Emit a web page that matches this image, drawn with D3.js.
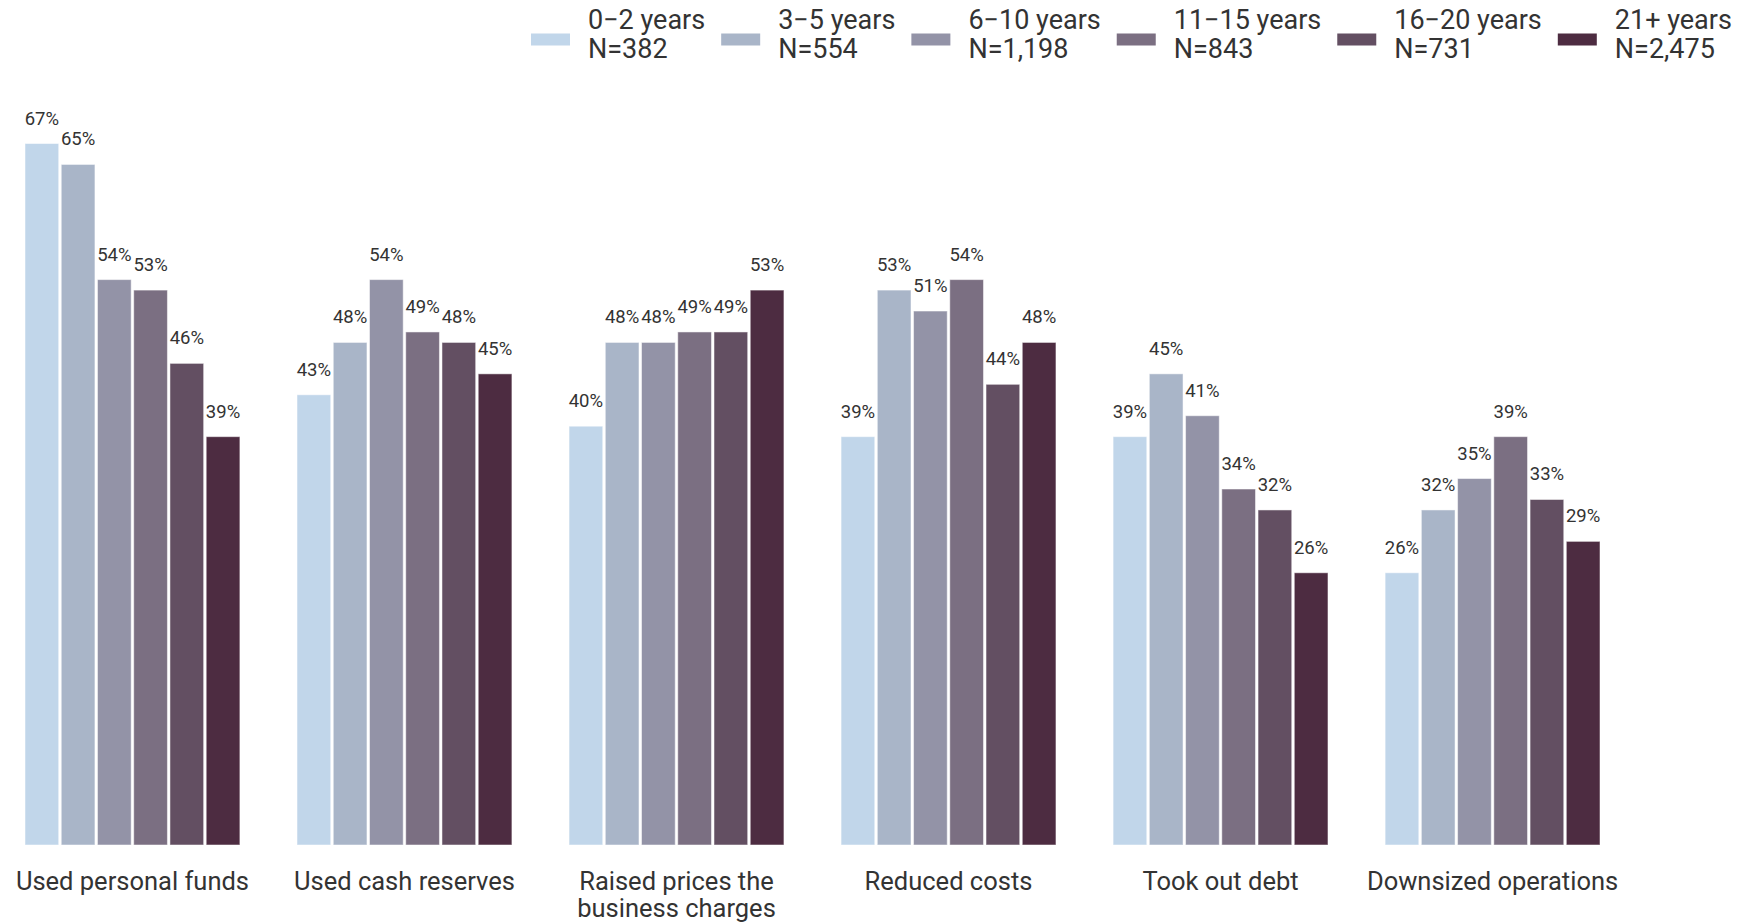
<!DOCTYPE html>
<html>
<head>
<meta charset="utf-8">
<script src="https://cdn.jsdelivr.net/npm/d3@7"></script>
<style>
  html, body { margin: 0; padding: 0; background: #fff; }
  svg { display: block; font-family: Roboto, "Noto Sans", sans-serif; }
</style>
</head>
<body>
<svg id="chart" width="1737" height="923"></svg>
<script>
// ---- data ----
const categories = [
  ["Used personal funds"],
  ["Used cash reserves"],
  ["Raised prices the", "business charges"],
  ["Reduced costs"],
  ["Took out debt"],
  ["Downsized operations"]
];
const seriesNames = ["0\u22122 years", "3\u22125 years", "6\u221210 years", "11\u221215 years", "16\u221220 years", "21+ years"];
const seriesN = ["N=382", "N=554", "N=1,198", "N=843", "N=731", "N=2,475"];
const colors = ["#c1d6ea", "#a9b5c8", "#9393a7", "#7b6f82", "#634f62", "#4d2c41"];

const v_0_2   = [67, 43, 40, 39, 39, 26];
const v_3_5   = [65, 48, 48, 53, 45, 32];
const v_6_10  = [54, 54, 48, 51, 41, 35];
const v_11_15 = [53, 49, 49, 54, 34, 39];
const v_16_20 = [46, 48, 49, 44, 32, 33];
const v_21    = [39, 45, 53, 48, 26, 29];
const seriesValues = [v_0_2, v_3_5, v_6_10, v_11_15, v_16_20, v_21];

// ---- layout ----
const svg = d3.select("#chart");
const catKeys = categories.map(c => c.join(" "));

const x0 = d3.scaleBand().domain(catKeys).range([25, 1600]).paddingInner(0.21).paddingOuter(0);
const x1 = d3.scaleBand().domain(seriesNames).range([0, x0.bandwidth()]).paddingInner(0.07).paddingOuter(0);
const y = d3.scaleLinear().domain([0, 67]).range([845, 143.5]);

const groups = svg.append("g").selectAll("g")
  .data(catKeys)
  .join("g")
  .attr("transform", d => `translate(${x0(d)},0)`);

groups.each(function(cat, ci) {
  const g = d3.select(this);
  const rows = seriesNames.map((s, si) => ({ s, si, v: seriesValues[si][ci] }));
  g.selectAll("rect")
    .data(rows)
    .join("rect")
    .attr("x", d => x1(d.s))
    .attr("y", d => y(d.v))
    .attr("width", x1.bandwidth())
    .attr("height", d => y(0) - y(d.v))
    .attr("fill", d => colors[d.si])
    .attr("stroke", "#ffffff")
    .attr("stroke-opacity", 0.5)
    .attr("stroke-width", 1);
  g.selectAll("text.val")
    .data(rows)
    .join("text")
    .attr("class", "val")
    .attr("x", d => x1(d.s) + x1.bandwidth() / 2)
    .attr("y", d => y(d.v) - 19)
    .attr("text-anchor", "middle")
    .attr("font-size", 18.5)
    .attr("fill", "#333")
    .text(d => d.v + "%");
});

// category labels
const catLabels = svg.append("g").selectAll("text")
  .data(categories)
  .join("text")
  .attr("x", (d, i) => x0(catKeys[i]) + x0.bandwidth() / 2)
  .attr("y", 890)
  .attr("text-anchor", "middle")
  .attr("font-size", 25.5)
  .attr("fill", "#333");
catLabels.each(function(lines) {
  const t = d3.select(this);
  const x = t.attr("x");
  lines.forEach((ln, k) => {
    t.append("tspan").attr("x", x).attr("dy", k === 0 ? 0 : 27).text(ln);
  });
});

// legend (flow layout)
const legend = svg.append("g");
let lx = 531;
seriesNames.forEach((name, i) => {
  const item = legend.append("g").attr("transform", `translate(${lx},0)`);
  item.append("rect")
    .attr("x", 0).attr("y", 33.5)
    .attr("width", 39).attr("height", 12)
    .attr("fill", colors[i]);
  const t = item.append("text")
    .attr("x", 57)
    .attr("font-size", 27)
    .attr("fill", "#333");
  t.append("tspan").attr("x", 57).attr("y", 29).text(name);
  t.append("tspan").attr("x", 57).attr("y", 58).text(seriesN[i]);
  const w = t.node().getBBox().width;
  lx += 57 + w + 16;
});
</script>
</body>
</html>
